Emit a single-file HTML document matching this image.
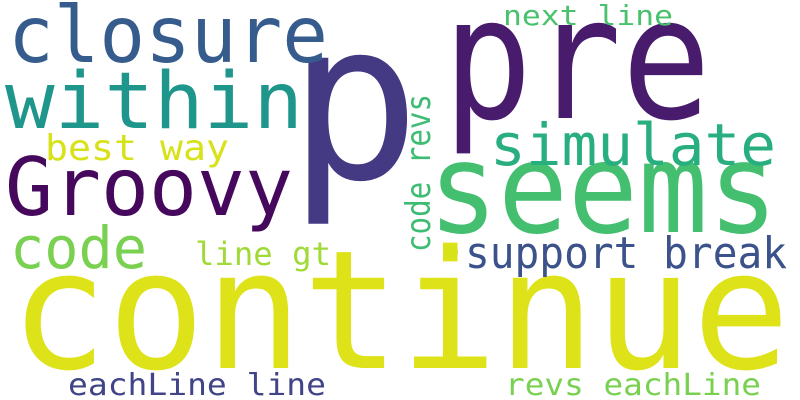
<!DOCTYPE html>
<html><head><meta charset="utf-8"><style>
html,body{margin:0;padding:0;background:#fff;width:800px;height:400px;overflow:hidden}
svg text{font-family:"DejaVu Sans Mono","Liberation Mono",monospace}
</style></head><body>
<svg width="800" height="400" viewBox="0 0 800 400">
<rect width="800" height="400" fill="#fff"/>
<text x="10" y="368" font-size="165" fill="#dde318" textLength="780" lengthAdjust="spacingAndGlyphs">continue</text>
<text x="288" y="178" font-size="220" fill="#443983">p</text>
<text x="443" y="118" font-size="170" fill="#481b6d" textLength="268" lengthAdjust="spacingAndGlyphs">pre</text>
<text x="428" y="232" font-size="125" fill="#44bf70" textLength="350" lengthAdjust="spacingAndGlyphs">seems</text>
<text x="8" y="62" font-size="78" fill="#365c8d" textLength="320" lengthAdjust="spacingAndGlyphs">closure</text>
<text x="5" y="128" font-size="78" fill="#1f968b" textLength="298" lengthAdjust="spacingAndGlyphs">within</text>
<text x="5" y="215" font-size="80" fill="#46085c" textLength="288" lengthAdjust="spacingAndGlyphs">Groovy</text>
<text x="10" y="268" font-size="58" fill="#7ad151" textLength="137" lengthAdjust="spacingAndGlyphs">code</text>
<text x="45" y="160" font-size="36" fill="#d8e219" textLength="184" lengthAdjust="spacingAndGlyphs">best way</text>
<text x="195" y="265" font-size="32" fill="#a0da39" textLength="136" lengthAdjust="spacingAndGlyphs">line gt</text>
<text x="490" y="165" font-size="58" fill="#29af7f" textLength="286" lengthAdjust="spacingAndGlyphs">simulate</text>
<text x="503" y="25" font-size="28" fill="#4ac16d" textLength="170" lengthAdjust="spacingAndGlyphs">next line</text>
<text transform="translate(430,252) rotate(-90)" font-size="34" fill="#3fbc73" textLength="158" lengthAdjust="spacingAndGlyphs">code revs</text>
<text x="465" y="268" font-size="44" fill="#3b528b" textLength="322" lengthAdjust="spacingAndGlyphs">support break</text>
<circle cx="451" cy="252" r="7" fill="#d8e219"/>
<text x="68" y="395" font-size="30" fill="#414487" textLength="258" lengthAdjust="spacingAndGlyphs">eachLine line</text>
<text x="505" y="395" font-size="30" fill="#7ad151" textLength="256" lengthAdjust="spacingAndGlyphs">revs eachLine</text>
</svg>
</body></html>
